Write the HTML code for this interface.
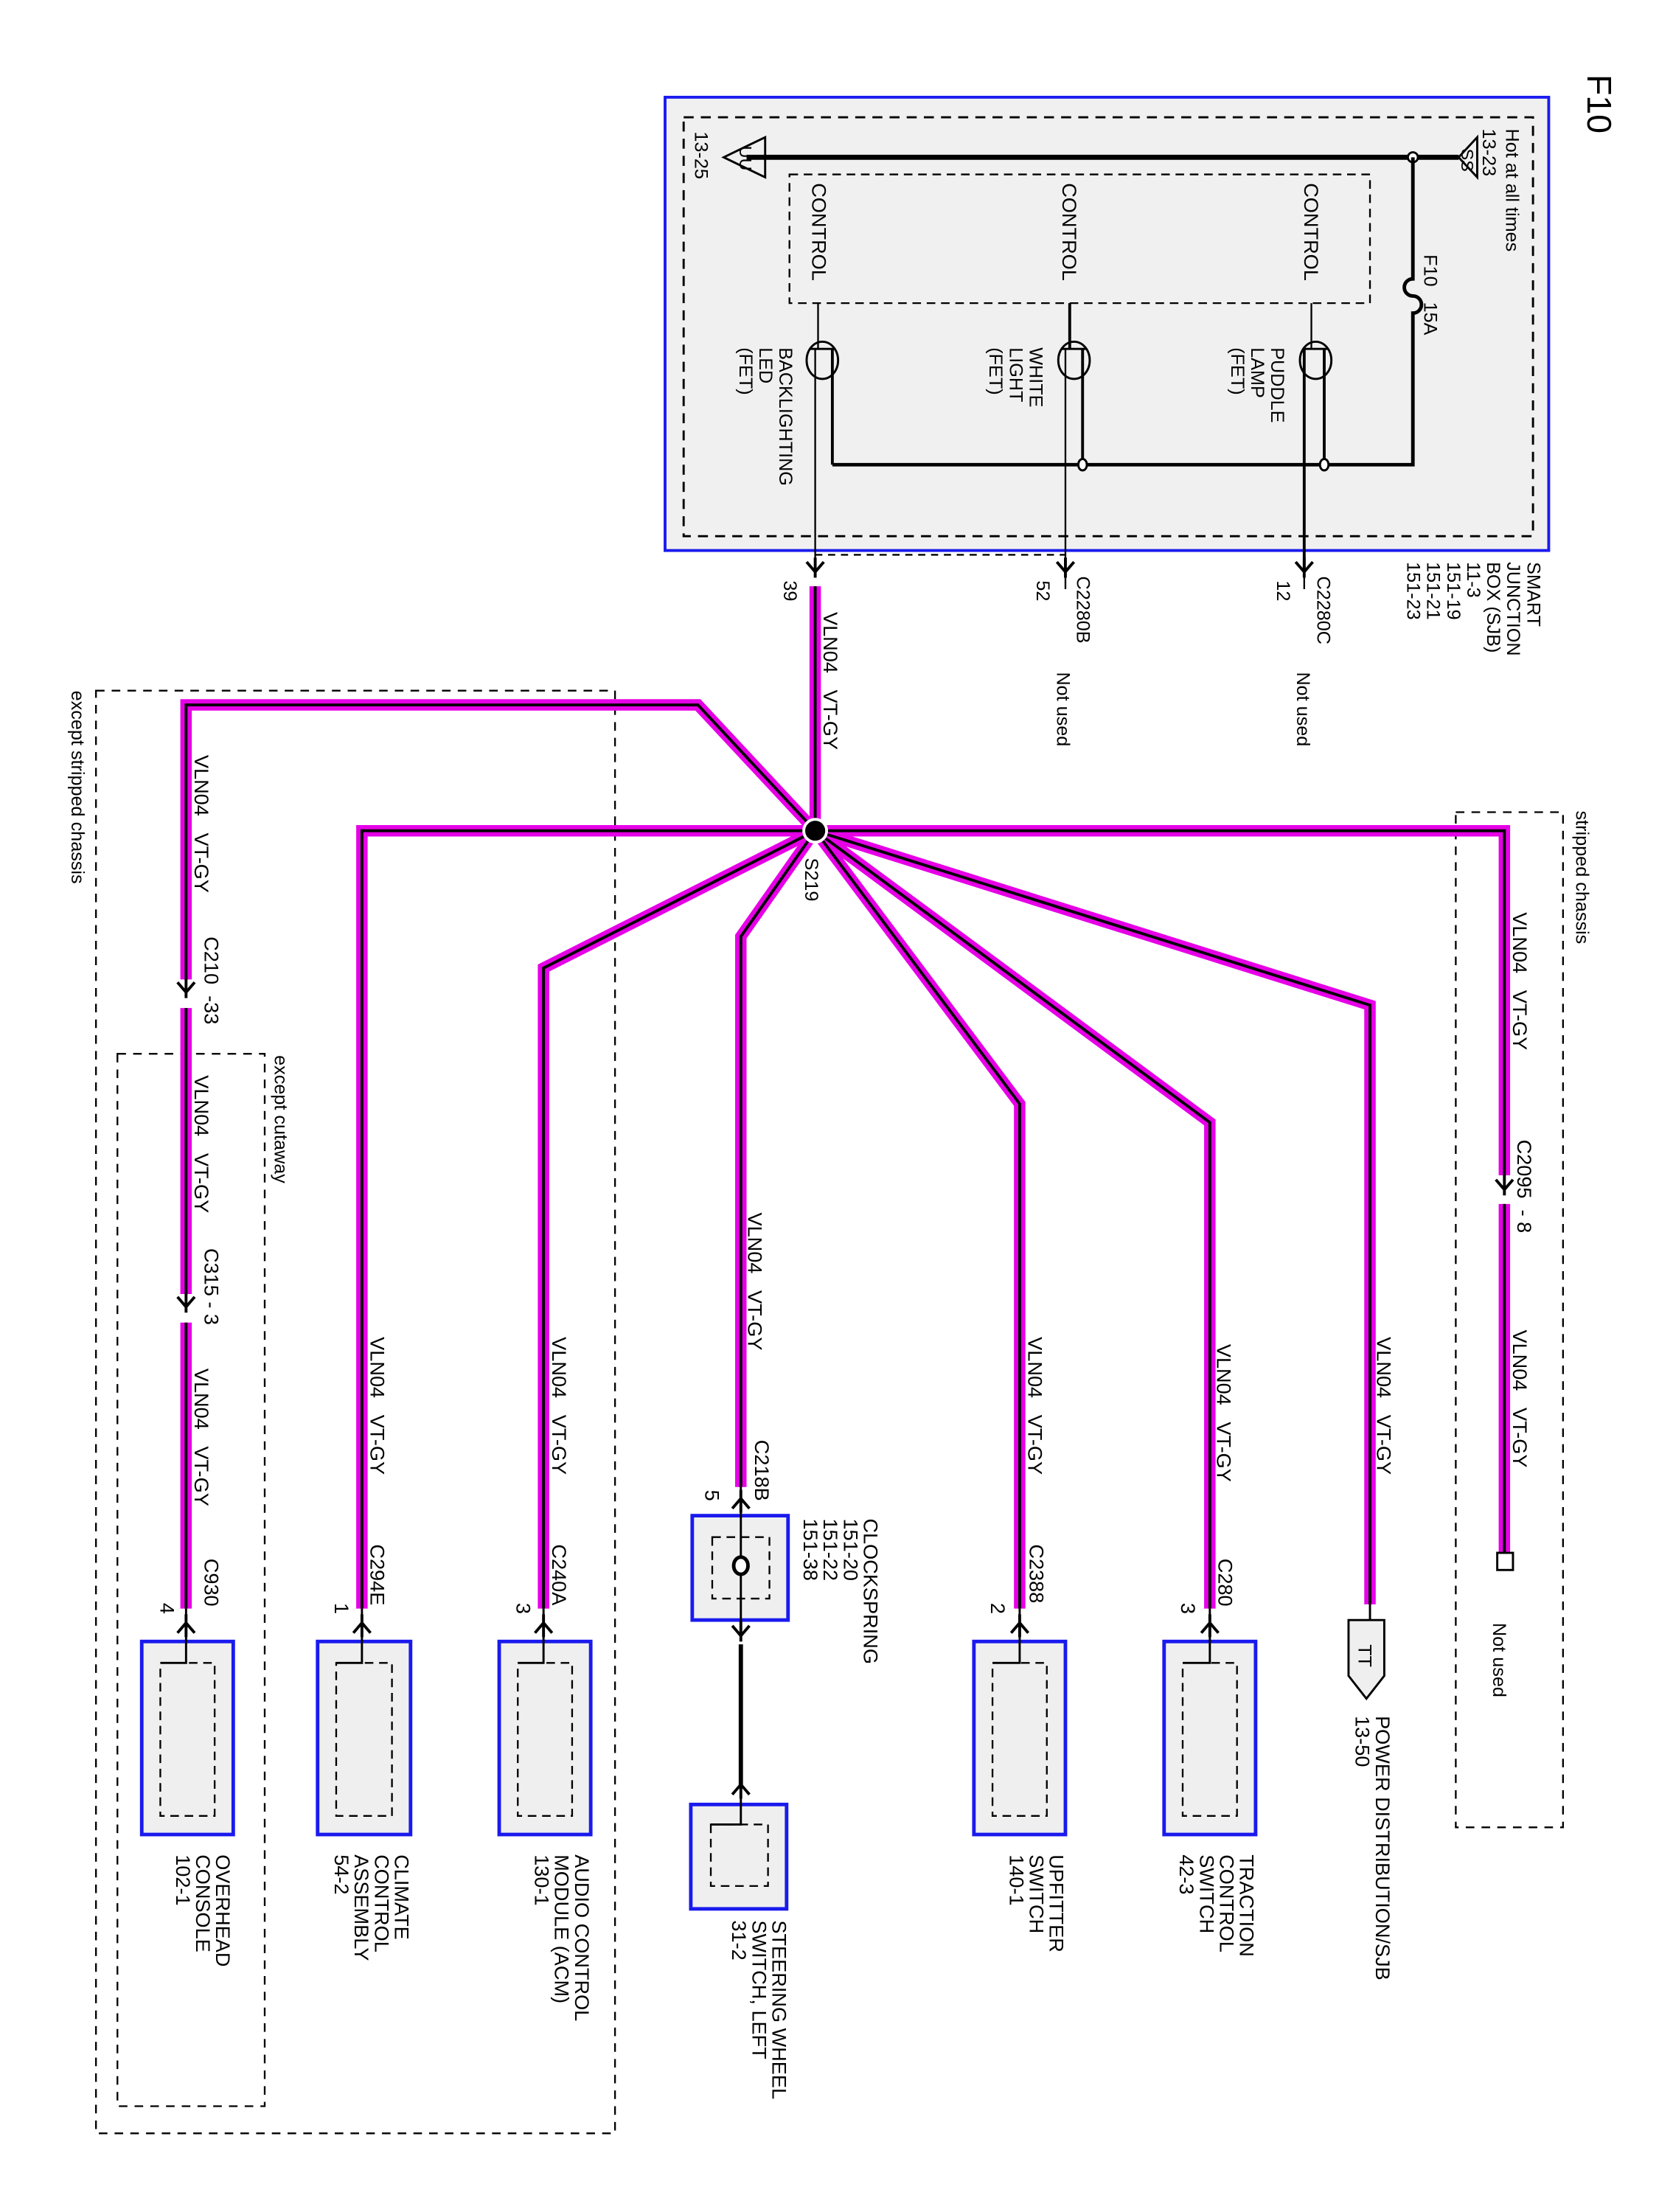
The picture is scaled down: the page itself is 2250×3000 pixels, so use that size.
<!DOCTYPE html>
<html><head><meta charset="utf-8"><style>
html,body{margin:0;padding:0;background:#fff}
svg{display:block}
text{font-family:"Liberation Sans",Arial,sans-serif;font-size:14px;fill:#000}
</style></head><body>
<svg width="2250" height="3000" viewBox="0 0 1160 1547" xmlns="http://www.w3.org/2000/svg">
<defs>
<g id="chD"><path d="M-6,-5 L0,2 L6,-5 M0,-8 L0,6" stroke="#000" stroke-width="2" fill="none"/></g>
<g id="chU"><path d="M-6,5 L0,-2 L6,5 M0,-8 L0,8" stroke="#000" stroke-width="2" fill="none"/></g>
</defs>
<text transform="translate(1110,52) rotate(90)" style="font-size:24px">F10</text>

<!-- SJB -->
<rect x="465" y="68" width="618" height="317" fill="#f0f0f0" stroke="#1a1aee" stroke-width="2"/>
<rect x="478" y="82" width="594" height="293" fill="none" stroke="#000" stroke-width="1.5" stroke-dasharray="7,5"/>
<rect x="552" y="122" width="406" height="90" fill="none" stroke="#000" stroke-width="1.2" stroke-dasharray="6,4"/>
<line x1="522" y1="110" x2="1020" y2="110" stroke="#000" stroke-width="3.5"/>
<path d="M535,96 L506,110 L535,124 Z" fill="none" stroke="#000" stroke-width="1.5"/>
<path d="M1033,96 L1020,110 L1033,124 Z" fill="none" stroke="#000" stroke-width="1.5"/>
<text transform="translate(517,102) rotate(90)" style="font-size:12px">UU</text>
<text transform="translate(1022,104) rotate(90)" style="font-size:12px">SS</text>
<text transform="translate(486,92) rotate(90)" style="font-size:13px">13-25</text>
<text transform="translate(1037,90) rotate(90)" style="font-size:13px">13-23</text>
<text transform="translate(1053,90) rotate(90)" style="font-size:13px">Hot at all times</text>
<circle cx="988" cy="110" r="3.5" fill="#fff" stroke="#000" stroke-width="1.5"/>
<path d="M988,110 L988,195 A6,6 0 0 0 988,207 A6,6 0 0 1 988,219 L988,325 L582,325" fill="none" stroke="#000" stroke-width="2.5"/>
<text transform="translate(996,178) rotate(90)" style="font-size:13px">F10&#160;&#160;&#160;15A</text>
<text transform="translate(568,128) rotate(90)">CONTROL</text>
<text transform="translate(743,128) rotate(90)">CONTROL</text>
<text transform="translate(912,128) rotate(90)">CONTROL</text>
<!-- FETs -->
<g stroke="#000" fill="none">
<ellipse cx="575" cy="252" rx="11" ry="13" stroke-width="1.5"/>
<ellipse cx="751" cy="252" rx="11" ry="13" stroke-width="1.5"/>
<ellipse cx="920" cy="252" rx="11" ry="13" stroke-width="1.5"/>
<line x1="566" y1="244" x2="584" y2="244" stroke-width="1.5"/>
<line x1="742" y1="244" x2="760" y2="244" stroke-width="1.5"/>
<line x1="911" y1="244" x2="929" y2="244" stroke-width="1.5"/>
<line x1="572" y1="212" x2="572" y2="244" stroke-width="1.2"/>
<line x1="748" y1="212" x2="748" y2="244" stroke-width="2"/>
<line x1="917" y1="212" x2="917" y2="244" stroke-width="1.2"/>
<line x1="570" y1="244" x2="570" y2="400" stroke-width="1.2"/>
<line x1="745" y1="244" x2="745" y2="400" stroke-width="1.2"/>
<line x1="912" y1="244" x2="912" y2="400" stroke-width="2"/>
<line x1="582" y1="244" x2="582" y2="325" stroke-width="2"/>
<line x1="757" y1="244" x2="757" y2="325" stroke-width="2"/>
<line x1="926" y1="244" x2="926" y2="325" stroke-width="2"/>
<line x1="570" y1="388" x2="745" y2="388" stroke-width="1.2" stroke-dasharray="5,4"/>
</g>
<ellipse cx="757" cy="325" rx="3" ry="4" fill="#fff" stroke="#000" stroke-width="1.5"/>
<ellipse cx="926" cy="325" rx="3" ry="4" fill="#fff" stroke="#000" stroke-width="1.5"/>
<text transform="translate(889,243) rotate(90)" style="font-size:13px"><tspan x="0" y="0">PUDDLE</tspan><tspan x="0" y="14">LAMP</tspan><tspan x="0" y="28">(FET)</tspan></text>
<text transform="translate(720,243) rotate(90)" style="font-size:13px"><tspan x="0" y="0">WHITE</tspan><tspan x="0" y="14">LIGHT</tspan><tspan x="0" y="28">(FET)</tspan></text>
<text transform="translate(545,243) rotate(90)" style="font-size:13px"><tspan x="0" y="0">BACKLIGHTING</tspan><tspan x="0" y="14">LED</tspan><tspan x="0" y="28">(FET)</tspan></text>
<use href="#chD" x="570" y="398"/>
<use href="#chD" x="745" y="398"/>
<use href="#chD" x="912" y="398"/>
<line x1="745" y1="400" x2="745" y2="412" stroke="#000" stroke-width="1.2"/>
<line x1="912" y1="400" x2="912" y2="412" stroke="#000" stroke-width="1.2"/>
<text transform="translate(548,406) rotate(90)" style="font-size:13px">39</text>
<text transform="translate(725,406) rotate(90)" style="font-size:13px">52</text>
<text transform="translate(893,406) rotate(90)" style="font-size:13px">12</text>
<text transform="translate(753,403) rotate(90)" style="font-size:13px">C2280B</text>
<text transform="translate(921,403) rotate(90)" style="font-size:13px">C2280C</text>
<text transform="translate(739,470) rotate(90)" style="font-size:13px">Not used</text>
<text transform="translate(907,470) rotate(90)" style="font-size:13px">Not used</text>
<text transform="translate(1068,393) rotate(90)" style="font-size:13px"><tspan x="0" y="0">SMART</tspan><tspan x="0" y="14">JUNCTION</tspan><tspan x="0" y="28">BOX (SJB)</tspan><tspan x="0" y="42">11-3</tspan><tspan x="0" y="56">151-19</tspan><tspan x="0" y="70">151-21</tspan><tspan x="0" y="84">151-23</tspan></text>

<!-- dashed regions -->
<g fill="none" stroke="#000" stroke-width="1.2" stroke-dasharray="6,5">
<rect x="67" y="483" width="363" height="1009"/>
<rect x="82" y="737" width="103" height="736"/>
<rect x="1018" y="568" width="75" height="710"/>
</g>
<text transform="translate(50,483) rotate(90)" style="font-size:13px">except stripped chassis</text>
<text transform="translate(192,738) rotate(90)" style="font-size:13px">except cutaway</text>
<text transform="translate(1102,567) rotate(90)" style="font-size:13px">stripped chassis</text>

<!-- wires -->
<g fill="none" stroke="#e600e6" stroke-width="8" stroke-linejoin="miter">
<path d="M570,410 L570,581"/>
<path d="M570,581 L488,493 L130,493 L130,685 M130,705 L130,905 M130,925 L130,1125"/>
<path d="M570,581 L253,581 L253,1125"/>
<path d="M570,581 L380,677 L380,1125"/>
<path d="M570,581 L518,655 L518,1040"/>
<path d="M570,581 L713,772 L713,1125"/>
<path d="M570,581 L846,785 L846,1125"/>
<path d="M570,581 L958,703 L958,1122"/>
<path d="M570,581 L1052,581 L1052,822 M1052,842 L1052,1088"/>
</g>
<g fill="none" stroke="#000" stroke-width="2" stroke-linejoin="miter">
<path d="M570,410 L570,581"/>
<path d="M570,581 L488,493 L130,493 L130,685 M130,705 L130,905 M130,925 L130,1125"/>
<path d="M570,581 L253,581 L253,1125"/>
<path d="M570,581 L380,677 L380,1125"/>
<path d="M570,581 L518,655 L518,1040"/>
<path d="M570,581 L713,772 L713,1125"/>
<path d="M570,581 L846,785 L846,1125"/>
<path d="M570,581 L958,703 L958,1122"/>
<path d="M570,581 L1052,581 L1052,822 M1052,842 L1052,1088"/>
</g>
<circle cx="570" cy="581" r="8" fill="#000" stroke="#fff" stroke-width="2"/>
<text transform="translate(563,600) rotate(90)" style="font-size:13px">S219</text>

<!-- inline connectors -->
<use href="#chD" x="130" y="692"/>
<use href="#chD" x="130" y="912"/>
<use href="#chD" x="1052" y="830"/>
<rect x="1047" y="1086" width="11" height="12" fill="#fff" stroke="#000" stroke-width="1.5"/>

<!-- wire labels -->
<g style="font-size:14px">
<text transform="translate(576,428) rotate(90)">VLN04&#160;&#160;&#160;VT-GY</text>
<text transform="translate(136,528) rotate(90)">VLN04&#160;&#160;&#160;VT-GY</text>
<text transform="translate(143,655) rotate(90)">C210&#160;&#160;-33</text>
<text transform="translate(136,752) rotate(90)">VLN04&#160;&#160;&#160;VT-GY</text>
<text transform="translate(143,873) rotate(90)">C315 - 3</text>
<text transform="translate(136,957) rotate(90)">VLN04&#160;&#160;&#160;VT-GY</text>
<text transform="translate(143,1090) rotate(90)">C930</text>
<text transform="translate(259,935) rotate(90)">VLN04&#160;&#160;&#160;VT-GY</text>
<text transform="translate(259,1080) rotate(90)">C294E</text>
<text transform="translate(386,935) rotate(90)">VLN04&#160;&#160;&#160;VT-GY</text>
<text transform="translate(386,1080) rotate(90)">C240A</text>
<text transform="translate(523,848) rotate(90)">VLN04&#160;&#160;&#160;VT-GY</text>
<text transform="translate(528,1007) rotate(90)">C218B</text>
<text transform="translate(719,935) rotate(90)">VLN04&#160;&#160;&#160;VT-GY</text>
<text transform="translate(720,1080) rotate(90)">C2388</text>
<text transform="translate(851,940) rotate(90)">VLN04&#160;&#160;&#160;VT-GY</text>
<text transform="translate(852,1090) rotate(90)">C280</text>
<text transform="translate(963,935) rotate(90)">VLN04&#160;&#160;&#160;VT-GY</text>
<text transform="translate(1058,638) rotate(90)">VLN04&#160;&#160;&#160;VT-GY</text>
<text transform="translate(1061,797) rotate(90)">C2095&#160;&#160;- 8</text>
<text transform="translate(1058,930) rotate(90)">VLN04&#160;&#160;&#160;VT-GY</text>
</g>
<text transform="translate(1044,1135) rotate(90)" style="font-size:13px">Not used</text>

<!-- pins numbers -->
<g style="font-size:13px">
<text transform="translate(112,1121) rotate(90)">4</text>
<text transform="translate(234,1121) rotate(90)">1</text>
<text transform="translate(361,1121) rotate(90)">3</text>
<text transform="translate(493,1042) rotate(90)">5</text>
<text transform="translate(693,1121) rotate(90)">2</text>
<text transform="translate(826,1121) rotate(90)">3</text>
</g>

<!-- components -->
<g fill="#efefef" stroke="#1a1aee" stroke-width="2.5">
<rect x="99" y="1148" width="64" height="135"/>
<rect x="222" y="1148" width="65" height="135"/>
<rect x="349" y="1148" width="64" height="135"/>
<rect x="681" y="1148" width="64" height="135"/>
<rect x="814" y="1148" width="64" height="135"/>
<rect x="484" y="1060" width="67" height="73"/>
<rect x="483" y="1262" width="67" height="73"/>
</g>
<g fill="none" stroke="#000" stroke-width="1.2" stroke-dasharray="6,4">
<rect x="112" y="1163" width="38" height="107"/>
<rect x="235" y="1163" width="39" height="107"/>
<rect x="362" y="1163" width="38" height="107"/>
<rect x="694" y="1163" width="38" height="107"/>
<rect x="827" y="1163" width="38" height="107"/>
<rect x="498" y="1075" width="40" height="43"/>
<rect x="497" y="1276" width="40" height="43"/>
</g>
<g stroke="#000" stroke-width="1.5" fill="none">
<path d="M130,1125 L130,1163 L112,1163"/>
<path d="M253,1125 L253,1163 L235,1163"/>
<path d="M380,1125 L380,1163 L362,1163"/>
<path d="M713,1125 L713,1163 L694,1163"/>
<path d="M846,1125 L846,1163 L827,1163"/>
<path d="M518,1040 L518,1148"/>
<path d="M518,1255 L518,1276 L497,1276"/>
</g>
<line x1="518" y1="1150" x2="518" y2="1250" stroke="#000" stroke-width="3"/>
<ellipse cx="518" cy="1095" rx="5" ry="6" fill="#fff" stroke="#000" stroke-width="2.5"/>
<use href="#chU" x="130" y="1137"/>
<use href="#chU" x="253" y="1137"/>
<use href="#chU" x="380" y="1137"/>
<use href="#chU" x="713" y="1137"/>
<use href="#chU" x="846" y="1137"/>
<use href="#chU" x="518" y="1050"/>
<use href="#chD" x="518" y="1142"/>
<use href="#chU" x="518" y="1250"/>
<!-- TT connector -->
<path d="M958,1122 L958,1133" stroke="#000" stroke-width="1.5"/>
<path d="M943,1133 L968,1133 L968,1172 L955.5,1188 L943,1172 Z" fill="#efefef" stroke="#000" stroke-width="1.5"/>
<text transform="translate(950,1150) rotate(90)" style="font-size:13px">TT</text>

<!-- component labels -->
<g style="font-size:14px">
<text transform="translate(151,1297) rotate(90)"><tspan x="0" y="0">OVERHEAD</tspan><tspan x="0" y="14">CONSOLE</tspan><tspan x="0" y="28">102-1</tspan></text>
<text transform="translate(276,1297) rotate(90)"><tspan x="0" y="0">CLIMATE</tspan><tspan x="0" y="14">CONTROL</tspan><tspan x="0" y="28">ASSEMBLY</tspan><tspan x="0" y="42">54-2</tspan></text>
<text transform="translate(402,1297) rotate(90)"><tspan x="0" y="0">AUDIO CONTROL</tspan><tspan x="0" y="14">MODULE (ACM)</tspan><tspan x="0" y="28">130-1</tspan></text>
<text transform="translate(604,1062) rotate(90)"><tspan x="0" y="0">CLOCKSPRING</tspan><tspan x="0" y="14">151-20</tspan><tspan x="0" y="28">151-22</tspan><tspan x="0" y="42">151-38</tspan></text>
<text transform="translate(540,1343) rotate(90)"><tspan x="0" y="0">STEERING WHEEL</tspan><tspan x="0" y="14">SWITCH, LEFT</tspan><tspan x="0" y="28">31-2</tspan></text>
<text transform="translate(734,1297) rotate(90)"><tspan x="0" y="0">UPFITTER</tspan><tspan x="0" y="14">SWITCH</tspan><tspan x="0" y="28">140-1</tspan></text>
<text transform="translate(867,1297) rotate(90)"><tspan x="0" y="0">TRACTION</tspan><tspan x="0" y="14">CONTROL</tspan><tspan x="0" y="28">SWITCH</tspan><tspan x="0" y="42">42-3</tspan></text>
<text transform="translate(962,1200) rotate(90)"><tspan x="0" y="0">POWER DISTRIBUTION/SJB</tspan><tspan x="0" y="14">13-50</tspan></text>
</g>
</svg>
</body></html>
